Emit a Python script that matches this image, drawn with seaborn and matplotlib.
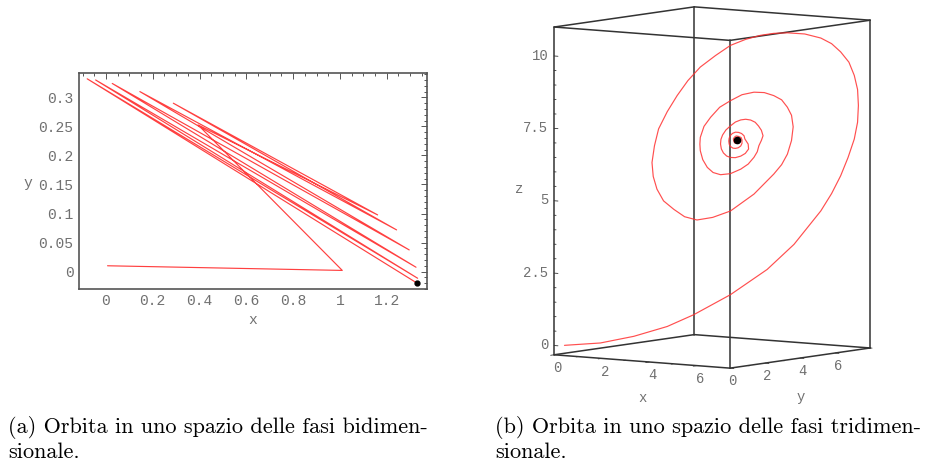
import matplotlib
matplotlib.use("Agg")
import numpy as np
import pandas as pd
import seaborn as sns
import matplotlib.pyplot as plt
from matplotlib.text import Text
from mpl_toolkits.mplot3d import proj3d

# ---------------- data: panel (a), 2-D orbit ----------------
orbit2d_x = [0.007, 1.010, 0.394, 1.161, 0.288, 1.242, 0.145, 1.296,
             0.027, 1.325, -0.044, 1.332, -0.080, 1.330]
orbit2d_y = [0.010, 0.002, 0.2525, 0.0976, 0.290, 0.0718, 0.310, 0.0373,
             0.324, 0.0075, 0.330, -0.0115, 0.332, -0.020]
ticks2d_x = [0, 0.2, 0.4, 0.6, 0.8, 1.0, 1.2]
ticklabels2d_x = ["0", "0.2", "0.4", "0.6", "0.8", "1", "1.2"]
ticks2d_y = [0, 0.05, 0.1, 0.15, 0.2, 0.25, 0.3]
ticklabels2d_y = ["0", "0.05", "0.1", "0.15", "0.2", "0.25", "0.3"]
range2d_x = (-0.115, 1.372)
range2d_y = (-0.030, 0.342)

# ---------------- data: panel (b), 3-D orbit ----------------
orbit3d_x = [0.25, 1.12, 1.93, 2.74, 3.38, 4.27, 5.16, 5.81, 6.46, 6.72,
             6.94, 7.12, 7.27, 7.35, 7.37, 7.35, 7.27, 7.14, 6.94, 6.72,
             6.46, 6.07, 5.65, 5.32, 5.00, 4.64, 4.27, 3.91, 3.54, 3.24,
             2.98, 2.74, 2.53, 2.43, 2.37, 2.40, 2.49, 2.65, 2.90, 3.16,
             3.46, 3.84,
             4.27, 4.84, 5.32, 5.51, 5.65, 5.75, 5.79, 5.75, 5.65, 5.51,
             5.32, 5.09, 4.84, 4.55, 4.27, 4.01, 3.79, 3.63, 3.54, 3.53,
             3.54, 3.60, 3.71, 3.85, 4.03, 4.27, 4.52, 4.70, 4.84, 4.92,
             4.96, 5.02,
             5.06, 5.02, 4.95, 4.87, 4.76, 4.64, 4.52, 4.39, 4.27, 4.16,
             4.08, 4.04, 4.03, 4.05, 4.10, 4.18, 4.27, 4.39, 4.52, 4.63,
             4.71, 4.70,
             4.62, 4.60, 4.54, 4.47, 4.39, 4.32, 4.27, 4.24, 4.23, 4.24,
             4.27, 4.33, 4.39, 4.46, 4.52, 4.55,
             4.55, 4.53, 4.47, 4.41, 4.37, 4.34, 4.35, 4.37, 4.42, 4.48,
             4.43]
orbit3d_y = [0.25, 1.12, 1.93, 2.74, 3.38, 4.27, 5.16, 5.81, 6.46, 6.72,
             6.94, 7.12, 7.27, 7.35, 7.37, 7.35, 7.27, 7.14, 6.94, 6.72,
             6.46, 6.07, 5.65, 5.32, 5.00, 4.64, 4.27, 3.91, 3.54, 3.24,
             2.98, 2.74, 2.53, 2.43, 2.37, 2.40, 2.49, 2.65, 2.90, 3.16,
             3.46, 3.84,
             4.27, 4.84, 5.32, 5.51, 5.65, 5.75, 5.79, 5.75, 5.65, 5.51,
             5.32, 5.09, 4.84, 4.55, 4.27, 4.01, 3.79, 3.63, 3.54, 3.53,
             3.54, 3.60, 3.71, 3.85, 4.03, 4.27, 4.52, 4.70, 4.84, 4.92,
             4.96, 5.02,
             5.06, 5.02, 4.95, 4.87, 4.76, 4.64, 4.52, 4.39, 4.27, 4.16,
             4.08, 4.04, 4.03, 4.05, 4.10, 4.18, 4.27, 4.39, 4.52, 4.63,
             4.71, 4.70,
             4.62, 4.60, 4.54, 4.47, 4.39, 4.32, 4.27, 4.24, 4.23, 4.24,
             4.27, 4.33, 4.39, 4.46, 4.52, 4.55,
             4.55, 4.53, 4.47, 4.41, 4.37, 4.34, 4.35, 4.37, 4.42, 4.48,
             4.43]
orbit3d_z = [0.00, 0.06, 0.27, 0.59, 0.98, 1.65, 2.50, 3.35, 4.49, 5.08,
             5.69, 6.32, 6.95, 7.53, 8.11, 8.66, 9.15, 9.61, 9.97, 10.26,
             10.46, 10.61, 10.66, 10.65, 10.59, 10.46, 10.26, 9.92, 9.53, 9.07,
             8.56, 8.01, 7.42, 6.84, 6.26, 5.78, 5.34, 4.93, 4.63, 4.37,
             4.25, 4.33,
             4.54, 5.11, 5.79, 6.11, 6.47, 6.94, 7.41, 7.81, 8.09, 8.35,
             8.50, 8.61, 8.63, 8.55, 8.35, 8.13, 7.79, 7.48, 7.10, 6.87,
             6.64, 6.33, 6.06, 5.88, 5.80, 5.83, 5.98, 6.15, 6.38, 6.57,
             6.78, 6.96,
             7.12, 7.31, 7.46, 7.59, 7.67, 7.70, 7.68, 7.61, 7.48, 7.34,
             7.17, 7.02, 6.86, 6.69, 6.55, 6.44, 6.39, 6.38, 6.43, 6.52,
             6.67, 6.84,
             7.02, 7.13, 7.21, 7.25, 7.26, 7.22, 7.15, 7.06, 6.96, 6.85,
             6.77, 6.71, 6.70, 6.72, 6.78, 6.87,
             6.99, 7.07, 7.11, 7.13, 7.09, 7.03, 6.96, 6.89, 6.88, 6.95,
             6.99]
ticks3d_x = [0, 2, 4, 6]
ticks3d_y = [0, 2, 4, 6]
ticks3d_z = [0, 2.5, 5, 7.5, 10]
ticklabels3d_z = ["0", "2.5", "5", "7.5", "10"]
range3d_x = (0.0, 7.4)
range3d_y = (0.0, 8.0)
range3d_z = (-0.32, 11.0)

captions = ["(a) Orbita in uno spazio delle fasi bidimen-\nsionale.",
            "(b) Orbita in uno spazio delle fasi tridimen-\nsionale."]

# ---------------- styling ----------------
sns.set_style("white")
W, H = 926, 468
fig = plt.figure(figsize=(W / 100, H / 100), dpi=100)
MONO = "Liberation Mono"
GRAY = "#707070"
FRAME = "#555555"

# ---------------- panel (a) ----------------
ax1 = fig.add_axes([79 / W, 1 - 289 / H, 348 / W, 216 / H])
df2 = pd.DataFrame({"x": orbit2d_x, "y": orbit2d_y})
sns.lineplot(data=df2, x="x", y="y", sort=False, estimator=None,
             color="#ff0000", lw=0.85, alpha=0.75, ax=ax1)
ax1.plot(orbit2d_x[-1], orbit2d_y[-1], "o", color="black", ms=3.5, zorder=5)
ax1.set_xlim(*range2d_x)
ax1.set_ylim(*range2d_y)
ax1.set_xticks(ticks2d_x)
ax1.set_xticklabels(ticklabels2d_x)
ax1.set_yticks(ticks2d_y)
ax1.set_yticklabels(ticklabels2d_y)
ax1.set_xticks(np.arange(-0.1, 1.37, 0.05), minor=True)
ax1.set_yticks(np.arange(-0.03, 0.342, 0.01), minor=True)
ax1.tick_params(which="both", direction="in", top=True, right=True,
                color=FRAME, width=0.7, labelcolor=GRAY, labelsize=10.5)
ax1.tick_params(which="major", length=4)
ax1.tick_params(which="minor", length=2)
ax1.tick_params(axis="x", pad=3.5)
ax1.tick_params(axis="y", pad=4)
for lab in ax1.get_xticklabels() + ax1.get_yticklabels():
    lab.set_fontfamily(MONO)
for sp in ax1.spines.values():
    sp.set_visible(True)
    sp.set_color(FRAME)
    sp.set_linewidth(1.2)
ax1.set_xlabel("x", fontfamily=MONO, color=GRAY, fontsize=10.5, va="center")
ax1.set_ylabel("y", fontfamily=MONO, color=GRAY, fontsize=10.5,
               rotation=0, va="center", ha="center")
ax1.xaxis.set_label_coords((252.3 - 79) / 348, (289 - 320) / 216)
ax1.yaxis.set_label_coords((27.5 - 79) / 348, (289 - 183.3) / 216)

# ---------------- panel (b) ----------------
S0 = 420.0
tcx, tcy = 712.15, H - 187.5
ax3 = fig.add_axes([(tcx - S0 / 2) / W, (tcy - S0 / 2) / H, S0 / W, S0 / H],
                   projection="3d")
ax3.set_facecolor("none")
ax3.set_proj_type("ortho")
ax3.view_init(elev=6, azim=-54)
ax3.set_xlim(*range3d_x)
ax3.set_ylim(*range3d_y)
ax3.set_zlim(*range3d_z)
ax3.set_box_aspect((217, 238, 329))
ax3.set_xticks([])
ax3.set_yticks([])
ax3.set_zticks([])
ax3.set_axis_off()
for t in ax3.findobj(Text):
    t.set_visible(False)

x0, x1 = range3d_x
y0, y1 = range3d_y
z0, z1 = range3d_z
EDGE = "#333333"
edges = [((x0, x1), (y0, y0), (z0, z0)), ((x0, x1), (y1, y1), (z0, z0)),
         ((x0, x1), (y0, y0), (z1, z1)), ((x0, x1), (y1, y1), (z1, z1)),
         ((x0, x0), (y0, y1), (z0, z0)), ((x1, x1), (y0, y1), (z0, z0)),
         ((x0, x0), (y0, y1), (z1, z1)), ((x1, x1), (y0, y1), (z1, z1)),
         ((x0, x0), (y0, y0), (z0, z1)), ((x1, x1), (y0, y0), (z0, z1)),
         ((x0, x0), (y1, y1), (z0, z1)), ((x1, x1), (y1, y1), (z0, z1))]
for ex, ey, ez in edges:
    ax3.plot(ex, ey, ez, color=EDGE, lw=1.1)

# small tick marks on the box edges
for zv in np.arange(0, 10.01, 0.5):
    L = 0.16 if np.isclose(zv % 2.5, 0) else 0.08
    ax3.plot((x0, x0 + L), (y0, y0), (zv, zv), color=EDGE, lw=0.6)
for xv in np.arange(0, 7.01, 1.0):
    L = 0.2 if xv in ticks3d_x else 0.1
    ax3.plot((xv, xv), (y0, y0 - L), (z0, z0), color=EDGE, lw=0.6)
for yv in np.arange(0, 8.01, 1.0):
    L = 0.16 if yv in ticks3d_y else 0.08
    ax3.plot((x1, x1 + L), (yv, yv), (z0, z0), color=EDGE, lw=0.6)

# the orbit
ax3.plot(orbit3d_x, orbit3d_y, orbit3d_z, color="#ff3030", lw=0.85, alpha=0.85)
ax3.plot([orbit3d_x[-1]], [orbit3d_y[-1]], [orbit3d_z[-1]], "o",
         color="black", ms=4.5)

# fit the projected box to its place in the figure
fig.canvas.draw()
cxs = np.array([a for a in (x0, x1) for b in (y0, y1) for c in (z0, z1)])
cys = np.array([b for a in (x0, x1) for b in (y0, y1) for c in (z0, z1)])
czs = np.array([c for a in (x0, x1) for b in (y0, y1) for c in (z0, z1)])
px, py, _ = proj3d.proj_transform(cxs, cys, czs, ax3.get_proj())
d = ax3.transData.transform(np.column_stack([px, py]))
w_cur = d[:, 0].max() - d[:, 0].min()
h_cur = d[:, 1].max() - d[:, 1].min()
s = 0.5 * (315.7 / w_cur + 361.6 / h_cur)
bb = ax3.get_position()
ax_x0, ax_y0 = bb.x0 * W, bb.y0 * H
mx = 0.5 * (d[:, 0].max() + d[:, 0].min())
my = 0.5 * (d[:, 1].max() + d[:, 1].min())
side = bb.width * W * s
nx0 = tcx - (mx - ax_x0) * s
ny0 = tcy - (my - ax_y0) * s
ax3.set_position([nx0 / W, ny0 / H, side / W, side / H])
fig.canvas.draw()


def label3d(x, y, z, s, **kw):
    """Place a 2-D figure text at the projected position of a 3-D point."""
    qx, qy, _ = proj3d.proj_transform(np.array([x]), np.array([y]),
                                      np.array([z]), ax3.get_proj())
    dx, dy = ax3.transData.transform((qx[0], qy[0]))
    fig.text(dx / W, dy / H, s, **kw)


tk = dict(fontfamily=MONO, color=GRAY, fontsize=10)
for xv in ticks3d_x:
    label3d(xv, y0 + 0.2, z0 - 0.48, f"{xv:g}", ha="center", va="center", **tk)
for yv in ticks3d_y:
    label3d(x1 + 0.11, yv, z0 - 0.43, f"{yv:g}", ha="center", va="center", **tk)
for zv, lab in zip(ticks3d_z, ticklabels3d_z):
    label3d(x0 - 0.25, y0, zv, lab, ha="right", va="center", **tk)
label3d(3.72, y0, -1.59, "x", ha="center", va="center", **tk)
label3d(x1, 4.02, -1.655, "y", ha="center", va="center", **tk)
label3d(x0 - 1.46, y0, 5.33, "z", ha="center", va="center", **tk)

# ---------------- captions ----------------
fig.text(8 / W, 1 - 416 / H, captions[0], fontfamily="cmr10", fontsize=16,
         va="top", ha="left", linespacing=1.22, color="black")
fig.text(495 / W, 1 - 416 / H, captions[1], fontfamily="cmr10", fontsize=16,
         va="top", ha="left", linespacing=1.22, color="black")

fig.savefig("out.png", dpi=100, facecolor="white")
